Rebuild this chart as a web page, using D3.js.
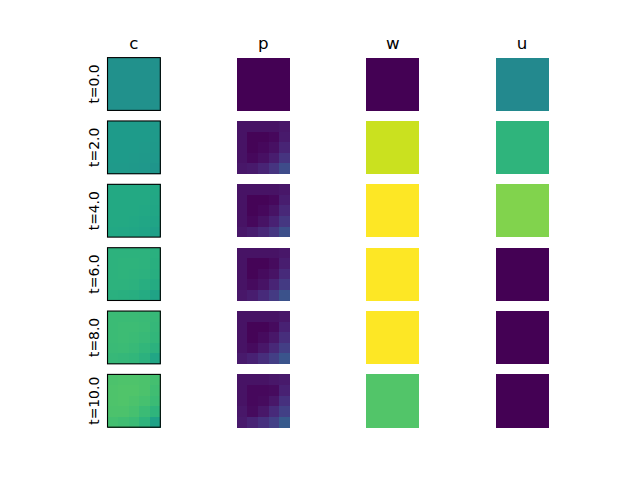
<!DOCTYPE html>
<html>
<head>
<meta charset="utf-8">
<script src="https://cdn.jsdelivr.net/npm/d3@7"></script>
<style>
  html, body { margin: 0; padding: 0; background: #fff; }
  svg { display: block; font-family: "DejaVu Sans", sans-serif; }
</style>
</head>
<body>
<svg id="chart" width="640" height="480"></svg>
<script>
// ---- data (colour-scale values, 0..1) ----
const columns = ["c", "p", "w", "u"];
const times = ["t=0.0", "t=2.0", "t=4.0", "t=6.0", "t=8.0", "t=10.0"];

const c0 = [
  [.50,.50,.50,.50,.50],
  [.50,.50,.50,.50,.50],
  [.50,.50,.50,.50,.50],
  [.50,.50,.50,.50,.50],
  [.50,.50,.50,.50,.50]];
const c2 = [
  [.545,.545,.545,.544,.541],
  [.545,.546,.546,.544,.540],
  [.545,.546,.544,.542,.537],
  [.544,.544,.542,.537,.532],
  [.541,.540,.537,.532,.520]];
const c4 = [
  [.603,.604,.604,.603,.599],
  [.604,.605,.605,.603,.597],
  [.604,.605,.603,.600,.593],
  [.603,.603,.600,.593,.585],
  [.599,.597,.593,.585,.565]];
const c6 = [
  [.642,.643,.643,.641,.635],
  [.643,.645,.645,.642,.632],
  [.643,.645,.642,.637,.626],
  [.641,.642,.637,.626,.613],
  [.635,.632,.626,.613,.580]];
const c8 = [
  [.680,.682,.682,.679,.671],
  [.682,.685,.685,.680,.666],
  [.682,.685,.680,.674,.657],
  [.679,.680,.674,.657,.638],
  [.671,.666,.657,.638,.590]];
const c10 = [
  [.718,.721,.721,.716,.703],
  [.721,.725,.725,.718,.695],
  [.721,.725,.718,.707,.680],
  [.716,.718,.707,.680,.650],
  [.703,.695,.680,.650,.575]];

const p0 = [
  [0,0,0,0,0],
  [0,0,0,0,0],
  [0,0,0,0,0],
  [0,0,0,0,0],
  [0,0,0,0,0]];
const p2 = [
  [.05,.05,.05,.05,.06],
  [.05,.01,.01,.02,.07],
  [.05,.01,.02,.04,.10],
  [.05,.02,.04,.08,.15],
  [.06,.07,.10,.15,.23]];
const p4 = [
  [.05,.05,.05,.05,.06],
  [.05,.01,.01,.02,.08],
  [.05,.01,.02,.05,.11],
  [.05,.02,.05,.09,.16],
  [.06,.08,.11,.16,.24]];
const p6 = [
  [.05,.05,.05,.05,.06],
  [.05,.01,.01,.03,.08],
  [.05,.01,.03,.05,.12],
  [.05,.03,.05,.10,.17],
  [.06,.08,.12,.17,.25]];
const p8 = [
  [.05,.05,.05,.05,.06],
  [.05,.01,.01,.03,.09],
  [.05,.01,.03,.06,.13],
  [.05,.03,.06,.11,.18],
  [.07,.09,.13,.18,.26]];
const p10 = [
  [.05,.05,.05,.06,.07],
  [.05,.02,.02,.03,.09],
  [.05,.02,.03,.06,.14],
  [.06,.03,.06,.12,.19],
  [.07,.10,.14,.19,.28]];

const wVals = [0.0, 0.92, 1.0, 1.0, 1.0, 0.73];
const uVals = [0.47, 0.65, 0.81, 0.0, 0.0, 0.0];

const cGrids = [c0, c2, c4, c6, c8, c10];
const pGrids = [p0, p2, p4, p6, p8, p10];

// ---- build cell table ----
const N = 5;
function uniform(v) { return d3.range(N).map(() => d3.range(N).map(() => v)); }
const grids = {
  c: cGrids,
  p: pGrids,
  w: wVals.map(uniform),
  u: uVals.map(uniform)
};

// ---- layout ----
const svg = d3.select("#chart");
const W = 640, H = 480;
const x = d3.scaleBand().domain(columns).range([0.125 * W, 0.9 * W]).paddingInner(0.2 / 1.2).paddingOuter(0);
const y = d3.scaleBand().domain(times).range([(1 - 0.88) * H, (1 - 0.11) * H]).paddingInner(0.2 / 1.2).paddingOuter(0);
const side = Math.min(x.bandwidth(), y.bandwidth());
const cell = d3.scaleBand().domain(d3.range(N)).range([0, side]);
const color = d3.scaleSequential(d3.interpolateViridis).domain([0, 1]);

columns.forEach((col, ci) => {
  times.forEach((t, ti) => {
    const x0 = x(col) + (x.bandwidth() - side) / 2;
    const y0 = y(t) + (y.bandwidth() - side) / 2;
    const g = svg.append("g").attr("transform", `translate(${x0},${y0})`);
    const data = [];
    grids[col][ti].forEach((row, r) => row.forEach((v, k) => data.push({ r, k, v })));
    g.selectAll("rect.cell").data(data).join("rect")
      .attr("class", "cell")
      .attr("x", d => cell(d.k))
      .attr("y", d => cell(d.r))
      .attr("width", cell.bandwidth() + 0.3)
      .attr("height", cell.bandwidth() + 0.3)
      .attr("fill", d => color(d.v))
      .attr("shape-rendering", "crispEdges");
    if (ci === 0) {
      g.append("rect")
        .attr("x", 0).attr("y", 0).attr("width", side).attr("height", side)
        .attr("fill", "none").attr("stroke", "#000").attr("stroke-width", 1.1);
      svg.append("text")
        .attr("transform", `translate(${x0 - 5.56 - 3.3},${y0 + side / 2}) rotate(-90)`)
        .attr("text-anchor", "middle")
        .attr("font-size", "13.9px")
        .attr("fill", "#000")
        .text(t);
    }
    if (ti === 0) {
      svg.append("text")
        .attr("x", x0 + side / 2)
        .attr("y", y0 - 8.33)
        .attr("text-anchor", "middle")
        .attr("font-size", "16.67px")
        .attr("fill", "#000")
        .text(col);
    }
  });
});
</script>
</body>
</html>
